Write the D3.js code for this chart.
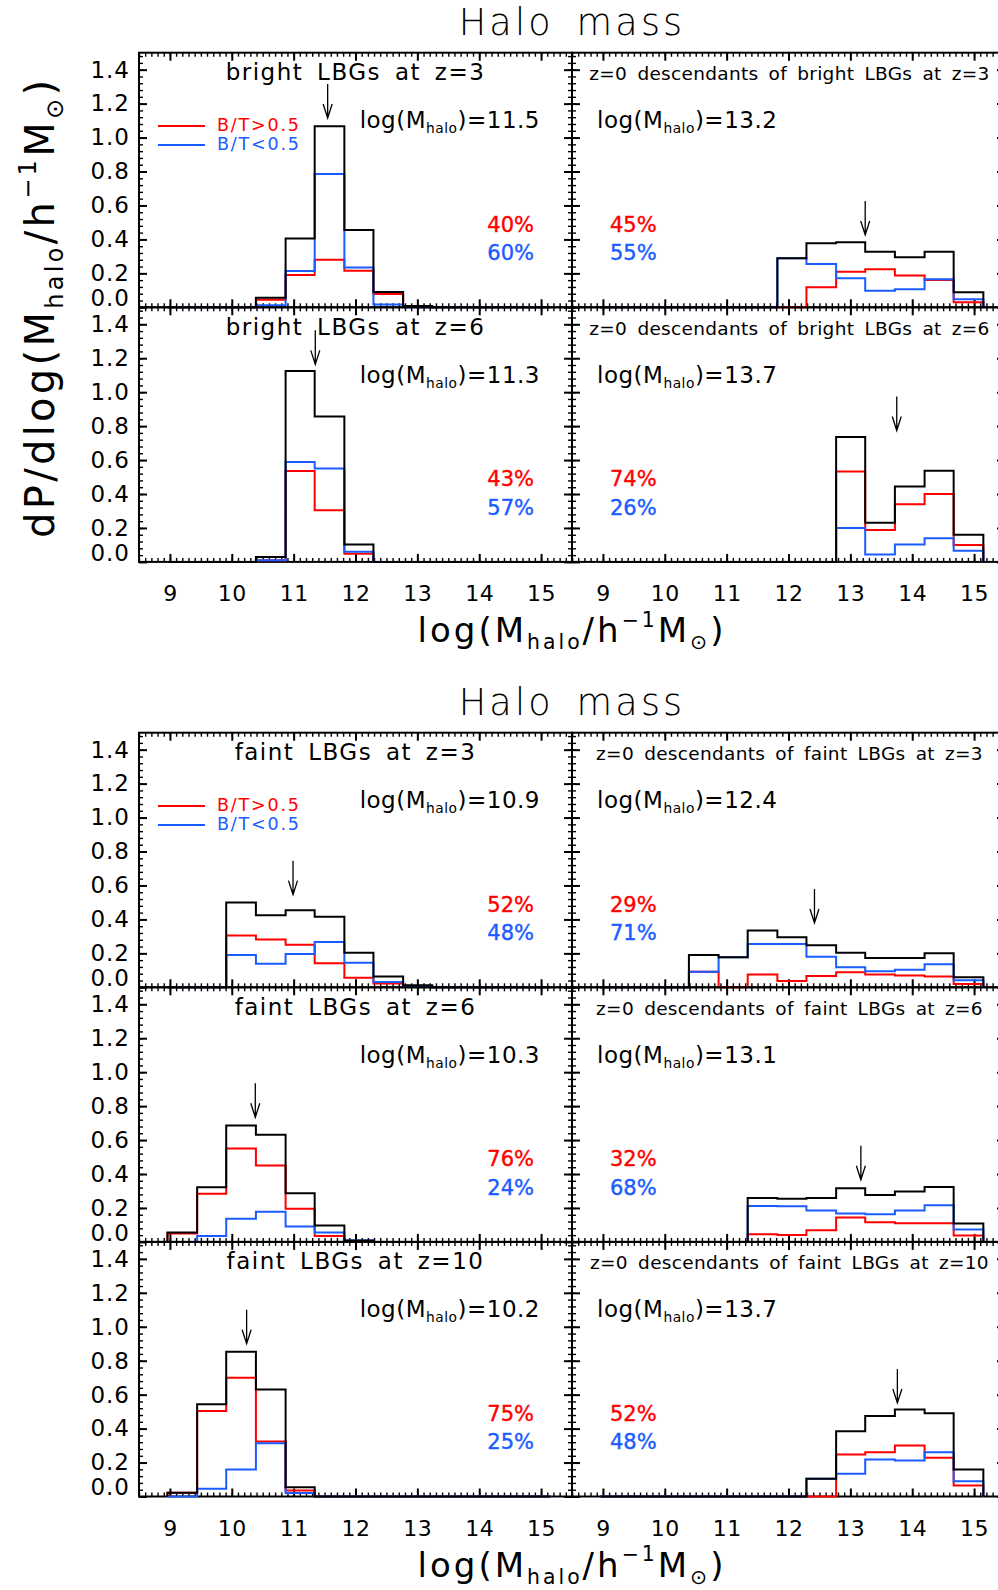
<!DOCTYPE html>
<html>
<head>
<meta charset="UTF-8">
<title>Halo mass</title>
<script src="https://cdnjs.cloudflare.com/ajax/libs/d3/7.8.5/d3.min.js"></script>
<style>
    body {
        margin: 0;
        background: #fff;
    }

    svg {
        display: block;
        font-family: "DejaVu Sans", sans-serif;
    }

    .frame {
        fill: none;
        stroke: #000;
        stroke-width: 2;
    }

    .major line {
        stroke: #000;
        stroke-width: 2;
    }

    .minor line {
        stroke: #000;
        stroke-width: 1.4;
    }

    .hist {
        fill: none;
        stroke-width: 2;
        stroke-linejoin: miter;
    }
</style>
</head>
<body>
<svg id="chart" width="998" height="1590"></svg>

<script>
    // histogram bin edges, log(Mhalo / h^-1 Msun)
    var binEdges = [8.96, 9.44, 9.91, 10.39, 10.87, 11.34, 11.82, 12.29, 12.77, 13.24, 13.72, 14.20, 14.67, 15.15];
    var xTicks = [9, 10, 11, 12, 13, 14, 15];
    var yTicks = [0, 0.2, 0.4, 0.6, 0.8, 1.0, 1.2, 1.4];

    // dP/dlog(M) per bin: all, B/T>0.5 (red), B/T<0.5 (blue)
    var brightZ3All   = [0, 0, 0, 0.057, 0.405, 1.067, 0.456, 0.090, 0.008, 0, 0, 0, 0];
    var brightZ3Bulge = [0, 0, 0, 0.045, 0.190, 0.280, 0.216, 0.079, 0.008, 0, 0, 0, 0];
    var brightZ3Disk  = [0, 0, 0, 0.012, 0.214, 0.786, 0.234, 0.016, 0, 0, 0, 0, 0];

    var brightZ3DescAll   = [0, 0, 0, 0, 0, 0, 0.289, 0.377, 0.383, 0.328, 0.295, 0.328, 0.088];
    var brightZ3DescBulge = [0, 0, 0, 0, 0, 0, 0, 0.118, 0.210, 0.224, 0.187, 0.161, 0.030];
    var brightZ3DescDisk  = [0, 0, 0, 0, 0, 0, 0.289, 0.255, 0.171, 0.098, 0.106, 0.165, 0.047];

    var brightZ6All   = [0, 0, 0, 0.029, 1.124, 0.856, 0.103, 0, 0, 0, 0, 0, 0];
    var brightZ6Bulge = [0, 0, 0, 0.010, 0.535, 0.304, 0.048, 0, 0, 0, 0, 0, 0];
    var brightZ6Disk  = [0, 0, 0, 0.010, 0.588, 0.551, 0.060, 0, 0, 0, 0, 0, 0];

    var brightZ6DescAll   = [0, 0, 0, 0, 0, 0, 0, 0, 0.736, 0.230, 0.444, 0.537, 0.160];
    var brightZ6DescBulge = [0, 0, 0, 0, 0, 0, 0, 0, 0.533, 0.188, 0.340, 0.400, 0.100];
    var brightZ6DescDisk  = [0, 0, 0, 0, 0, 0, 0, 0, 0.200, 0.044, 0.103, 0.139, 0.066];

    var faintZ3All   = [0, 0, 0.499, 0.424, 0.454, 0.416, 0.204, 0.063, 0.012, 0, 0, 0, 0];
    var faintZ3Bulge = [0, 0, 0.305, 0.281, 0.250, 0.141, 0.057, 0.022, 0.004, 0, 0, 0, 0];
    var faintZ3Disk  = [0, 0, 0.190, 0.139, 0.196, 0.267, 0.145, 0.031, 0.008, 0, 0, 0, 0];

    var faintZ3DescAll   = [0, 0, 0, 0.190, 0.177, 0.334, 0.295, 0.248, 0.204, 0.173, 0.173, 0.200, 0.059];
    var faintZ3DescBulge = [0, 0, 0, 0.092, 0, 0.075, 0.037, 0.067, 0.088, 0.075, 0.069, 0.063, 0.020];
    var faintZ3DescDisk  = [0, 0, 0, 0.092, 0.177, 0.255, 0.255, 0.180, 0.118, 0.094, 0.104, 0.136, 0.041];

    var faintZ6All   = [0.055, 0.322, 0.686, 0.631, 0.287, 0.096, 0.008, 0, 0, 0, 0, 0, 0];
    var faintZ6Bulge = [0.050, 0.283, 0.550, 0.450, 0.195, 0.035, 0, 0, 0, 0, 0, 0, 0];
    var faintZ6Disk  = [0, 0.035, 0.136, 0.177, 0.090, 0.055, 0.008, 0, 0, 0, 0, 0, 0];

    var faintZ6DescAll   = [0, 0, 0, 0, 0, 0.258, 0.254, 0.258, 0.316, 0.277, 0.297, 0.324, 0.108];
    var faintZ6DescBulge = [0, 0, 0, 0, 0, 0.045, 0.041, 0.069, 0.144, 0.116, 0.110, 0.110, 0.037];
    var faintZ6DescDisk  = [0, 0, 0, 0, 0, 0.212, 0.210, 0.185, 0.167, 0.163, 0.185, 0.216, 0.073];

    var faintZ10All   = [0.022, 0.543, 0.853, 0.631, 0.055, 0, 0, 0, 0, 0, 0, 0, 0];
    var faintZ10Bulge = [0.022, 0.503, 0.700, 0.324, 0.035, 0, 0, 0, 0, 0, 0, 0, 0];
    var faintZ10Disk  = [0, 0.045, 0.159, 0.313, 0.020, 0, 0, 0, 0, 0, 0, 0, 0];

    var faintZ10DescAll   = [0, 0, 0, 0, 0, 0, 0, 0.104, 0.385, 0.474, 0.513, 0.490, 0.159];
    var faintZ10DescBulge = [0, 0, 0, 0, 0, 0, 0, 0, 0.248, 0.261, 0.300, 0.228, 0.065];
    var faintZ10DescDisk  = [0, 0, 0, 0, 0, 0, 0, 0.104, 0.134, 0.218, 0.212, 0.261, 0.090];

    // per panel, in reading order (left, right; row by row)
    var panelTitles = [
        "bright LBGs at z=3", "z=0 descendants of bright LBGs at z=3",
        "bright LBGs at z=6", "z=0 descendants of bright LBGs at z=6",
        "faint LBGs at z=3", "z=0 descendants of faint LBGs at z=3",
        "faint LBGs at z=6", "z=0 descendants of faint LBGs at z=6",
        "faint LBGs at z=10", "z=0 descendants of faint LBGs at z=10"
    ];
    var medianMass = ["11.5", "13.2", "11.3", "13.7", "10.9", "12.4", "10.3", "13.1", "10.2", "13.7"];
    var arrowX = [11.55, 13.24, 11.35, 13.75, 10.99, 12.42, 10.38, 13.17, 10.24, 13.76];
    var arrowTip = [1.115, 0.426, 1.164, 0.774, 0.546, 0.379, 0.734, 0.366, 0.90, 0.551];
    var bulgeFrac = ["40%", "45%", "43%", "74%", "52%", "29%", "76%", "32%", "75%", "52%"];
    var diskFrac = ["60%", "55%", "57%", "26%", "48%", "71%", "24%", "68%", "25%", "48%"];
    var legendLabels = ["B/T>0.5", "B/T<0.5"];

    var allSeries = [brightZ3All, brightZ3DescAll, brightZ6All, brightZ6DescAll, faintZ3All,
        faintZ3DescAll, faintZ6All, faintZ6DescAll, faintZ10All, faintZ10DescAll];
    var bulgeSeries = [brightZ3Bulge, brightZ3DescBulge, brightZ6Bulge, brightZ6DescBulge, faintZ3Bulge,
        faintZ3DescBulge, faintZ6Bulge, faintZ6DescBulge, faintZ10Bulge, faintZ10DescBulge];
    var diskSeries = [brightZ3Disk, brightZ3DescDisk, brightZ6Disk, brightZ6DescDisk, faintZ3Disk,
        faintZ3DescDisk, faintZ6Disk, faintZ6DescDisk, faintZ10Disk, faintZ10DescDisk];

    var RED = "#ff0000", BLUE = "#1a5cff";

    var svg = d3.select("#chart");
    var panelW = 433, panelH = 254.6;
    var colLeft = [139, 572];
    var groupTop = [52.7, 732.7];
    var groupRows = [2, 3];
    var midX = 572;

    var x = d3.scaleLinear().domain([8.5, 15.5]).range([0, panelW]);
    var y = d3.scaleLinear().domain([0, 1.5]).range([panelH, 0]);
    var xMinor = d3.range(85, 156).map(function (d) { return d / 10; });
    var yMinor = d3.range(0, 38).map(function (d) { return d * 0.04; });

    var panels = panelTitles.map(function (t, i) {
        var grp = i < 4 ? 0 : 1;
        var row = Math.floor((grp === 0 ? i : i - 4) / 2);
        return {
            i: i, title: t, group: grp, row: row, col: i % 2,
            last: row === groupRows[grp] - 1,
            top: groupTop[grp] + row * panelH
        };
    });

    function stepPath(vals) {
        var pts = [[binEdges[0], 0]];
        vals.forEach(function (v, k) { pts.push([binEdges[k], v]); });
        pts.push([binEdges[vals.length], 0]);
        return d3.line()
            .x(function (d) { return x(d[0]); })
            .y(function (d) { return y(d[1]); })
            .curve(d3.curveStepAfter)(pts);
    }

    // inward tick marks on one side of a panel
    function tickSide(g, axisFn, scale, vals, len, cls, tr) {
        g.append("g").attr("class", cls).attr("transform", tr)
            .call(axisFn(scale).tickValues(vals).tickSizeInner(-len).tickSizeOuter(0).tickFormat(""))
            .call(function (a) { a.select(".domain").remove(); });
    }

    // log(M_halo ...) style label built from tspans
    function massText(sel, F, prefix, full) {
        sel.append("tspan").text(prefix + "log(M");
        sel.append("tspan").attr("font-size", 0.6 * F).attr("dy", 0.22 * F).text("halo");
        if (!full) {
            sel.append("tspan").attr("dy", -0.22 * F).text(")");
            return;
        }
        sel.append("tspan").attr("dy", -0.22 * F).text("/h");
        sel.append("tspan").attr("font-size", 0.6 * F).attr("dy", -0.45 * F).text("\u22121");
        sel.append("tspan").attr("dy", 0.45 * F).text("M");
        sel.append("tspan").attr("font-size", 0.6 * F).attr("dy", 0.22 * F).text("\u2299");
        sel.append("tspan").attr("dy", -0.22 * F).text(")");
    }

    panels.forEach(function (p) {
        var g = svg.append("g")
            .attr("transform", "translate(" + colLeft[p.col] + "," + p.top + ")");

        g.append("rect").attr("class", "frame")
            .attr("width", panelW).attr("height", panelH);

        tickSide(g, d3.axisBottom, x, xMinor, 4, "minor", "translate(0," + panelH + ")");
        tickSide(g, d3.axisTop, x, xMinor, 4, "minor", null);
        tickSide(g, d3.axisBottom, x, xTicks, 8, "major", "translate(0," + panelH + ")");
        tickSide(g, d3.axisTop, x, xTicks, 8, "major", null);
        tickSide(g, d3.axisLeft, y, yMinor, 4, "minor", null);
        tickSide(g, d3.axisRight, y, yMinor, 4, "minor", "translate(" + panelW + ",0)");
        tickSide(g, d3.axisLeft, y, yTicks, 8, "major", null);
        tickSide(g, d3.axisRight, y, yTicks, 8, "major", "translate(" + panelW + ",0)");

        if (p.col === 0) {
            g.append("g")
                .call(d3.axisLeft(y).tickValues(yTicks).tickSize(0).tickPadding(9).tickFormat(d3.format(".1f")))
                .call(function (a) {
                    a.select(".domain").remove();
                    a.attr("font-family", null).attr("font-size", 23);
                    a.selectAll("text").attr("fill", "#000").attr("letter-spacing", 1);
                    a.selectAll(".tick").filter(function (d) { return d === 0; })
                        .select("text").attr("y", -9);
                });
        }
        if (p.last) {
            g.append("g").attr("transform", "translate(0," + panelH + ")")
                .call(d3.axisBottom(x).tickValues(xTicks).tickSize(0).tickFormat(d3.format("d")))
                .call(function (a) {
                    a.select(".domain").remove();
                    a.attr("font-family", null).attr("font-size", 22);
                    a.selectAll("text").attr("fill", "#000").attr("y", 39.5).attr("dy", 0)
                        .attr("letter-spacing", 0.5);
                });
        }

        // histograms
        [[bulgeSeries[p.i], RED, 2], [diskSeries[p.i], BLUE, 2], [allSeries[p.i], "#000", 2.2]]
            .forEach(function (s) {
                g.append("path").attr("class", "hist")
                    .attr("d", stepPath(s[0]))
                    .attr("stroke", s[1]).attr("stroke-width", s[2]);
            });

        // arrow at the median mass
        var ax = x(arrowX[p.i]), ay = y(arrowTip[p.i]);
        g.append("path")
            .attr("d", "M" + ax + "," + (ay - 34) + "V" + ay +
                "M" + (ax - 4.5) + "," + (ay - 14) + "L" + ax + "," + ay + "L" + (ax + 4.5) + "," + (ay - 14))
            .attr("fill", "none").attr("stroke", "#000").attr("stroke-width", 1.3);

        // panel title
        var left = p.col === 0;
        g.append("text")
            .attr("x", panelW / 2 + (left ? 0 : 1)).attr("y", 27.3)
            .attr("text-anchor", "middle")
            .attr("font-size", left ? 23 : 18.5)
            .attr("letter-spacing", left ? 1.5 : 0.3)
            .attr("word-spacing", left ? 5 : 4)
            .text(p.title);

        // median mass label
        var med = g.append("text")
            .attr("x", left ? 401 : 25).attr("y", 75.5)
            .attr("text-anchor", left ? "end" : "start")
            .attr("font-size", 23).attr("letter-spacing", 0.5);
        massText(med, 23, "", false);
        med.append("tspan").text("=" + medianMass[p.i]);

        // fractions
        [[bulgeFrac[p.i], RED, 179], [diskFrac[p.i], BLUE, 207.5]].forEach(function (f) {
            g.append("text")
                .attr("x", left ? 395 : 38).attr("y", f[2])
                .attr("text-anchor", left ? "end" : "start")
                .attr("font-size", 21)
                .attr("fill", f[1]).attr("stroke", f[1]).attr("stroke-width", 0.4)
                .text(f[0]);
        });

        // legend in the first panel of each group
        if (p.row === 0 && left) {
            [[RED, 73.3, 78], [BLUE, 92.3, 97.5]].forEach(function (l, k) {
                g.append("line")
                    .attr("x1", 19).attr("x2", 66).attr("y1", l[1]).attr("y2", l[1])
                    .attr("stroke", l[0]).attr("stroke-width", 2);
                g.append("text")
                    .attr("x", 78).attr("y", l[2])
                    .attr("font-size", 17.5).attr("letter-spacing", 1.8)
                    .attr("fill", l[0])
                    .text(legendLabels[k]);
            });
        }
    });

    // group titles and axis titles
    groupTop.forEach(function (t, k) {
        svg.append("text")
            .attr("x", midX).attr("y", t - 17.7)
            .attr("text-anchor", "middle")
            .attr("font-size", 36.5).attr("font-weight", 200)
            .attr("letter-spacing", 3.2).attr("word-spacing", 8)
            .text("Halo mass");

        var bottom = t + groupRows[k] * panelH;
        var xl = svg.append("text")
            .attr("x", midX).attr("y", bottom + 80)
            .attr("text-anchor", "middle")
            .attr("font-size", 34).attr("letter-spacing", 3);
        massText(xl, 34, "", true);
    });

    var yl = svg.append("text")
        .attr("transform", "translate(54," + (groupTop[0] + panelH) + ") rotate(-90)")
        .attr("text-anchor", "middle")
        .attr("font-size", 40).attr("letter-spacing", 3.3);
    massText(yl, 40, "dP/d", true);
</script>
</body>
</html>
